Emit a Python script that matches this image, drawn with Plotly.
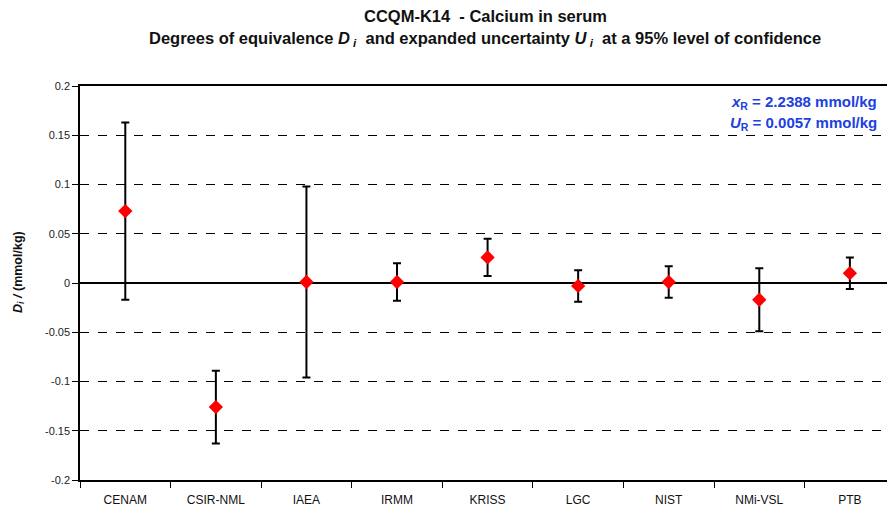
import plotly.graph_objects as go

labs = ["CENAM", "CSIR-NML", "IAEA", "IRMM", "KRISS", "LGC", "NIST", "NMi-VSL", "PTB"]
D = [0.073, -0.126, 0.001, 0.001, 0.026, -0.003, 0.001, -0.017, 0.010]
U = [0.090, 0.037, 0.097, 0.019, 0.019, 0.016, 0.016, 0.032, 0.016]
yticks = [-0.2, -0.15, -0.1, -0.05, 0, 0.05, 0.1, 0.15, 0.2]
yticktext = ["-0.2", "-0.15", "-0.1", "-0.05", "0", "0.05", "0.1", "0.15", "0.2"]

FONT = "Liberation Sans, Arial, sans-serif"
BLUE = "#2040e0"

fig = go.Figure()
fig.add_trace(go.Scatter(
    x=labs, y=D, mode="markers",
    marker=dict(symbol="diamond", size=11, color="#ff0000", line=dict(width=0)),
    error_y=dict(type="data", array=U, visible=True, color="black", thickness=2, width=4),
    showlegend=False,
))

fig.update_layout(
    width=887, height=509,
    margin=dict(l=80, r=0, t=86, b=29),
    paper_bgcolor="white", plot_bgcolor="white",
    font=dict(family=FONT, size=12, color="#222"),
    xaxis=dict(
        type="category", range=[-0.5, 8.41],
        showline=True, linecolor="black", linewidth=1.5, mirror=True,
        ticks="outside", ticklen=6, tickcolor="black", tickwidth=1,
        tickson="boundaries", showgrid=False,
        tickfont=dict(family=FONT, size=12, color="#111"),
        ticklabelstandoff=8,
    ),
    yaxis=dict(
        range=[-0.2, 0.2], tickvals=yticks, ticktext=yticktext,
        showline=True, linecolor="black", linewidth=1.5, mirror=False,
        ticks="outside", ticklen=6, tickcolor="black", tickwidth=1,
        showgrid=True, gridcolor="black", gridwidth=1, griddash="dash",
        zeroline=True, zerolinecolor="black", zerolinewidth=2,
        tickfont=dict(family=FONT, size=11, color="#222"),
    ),
    annotations=[
        dict(text="<b>CCQM-K14  - Calcium in serum</b>", xref="paper", yref="paper",
             x=0.502, y=1.178, showarrow=False, xanchor="center", yanchor="middle",
             font=dict(family=FONT, size=16.5, color="#111")),
        dict(text="<b>Degrees of equivalence <i>D</i><sub> <i>i</i></sub>  and expanded uncertainty <i>U</i><sub> <i>i</i></sub>  at a 95% level of confidence</b>",
             xref="paper", yref="paper",
             x=0.502, y=1.119, showarrow=False, xanchor="center", yanchor="middle",
             font=dict(family=FONT, size=16.5, color="#111")),
        dict(text="<b><i>x</i><sub>R</sub> = 2.2388 mmol/kg</b>", xref="paper", yref="paper",
             x=1, xshift=-8, y=0.957, showarrow=False, xanchor="right", yanchor="middle",
             font=dict(family=FONT, size=15, color=BLUE)),
        dict(text="<b><i>U</i><sub>R</sub> = 0.0057 mmol/kg</b>", xref="paper", yref="paper",
             x=1, xshift=-8, y=0.904, showarrow=False, xanchor="right", yanchor="middle",
             font=dict(family=FONT, size=15, color=BLUE)),
        dict(text="<b><i>D<sub>i</sub> /</i> (mmol/kg)</b>", xref="paper", yref="paper",
             x=-0.0764, y=0.529, showarrow=False, textangle=-90,
             xanchor="center", yanchor="middle",
             font=dict(family=FONT, size=12.5, color="#111")),
    ],
)

fig.write_html("out.html")
